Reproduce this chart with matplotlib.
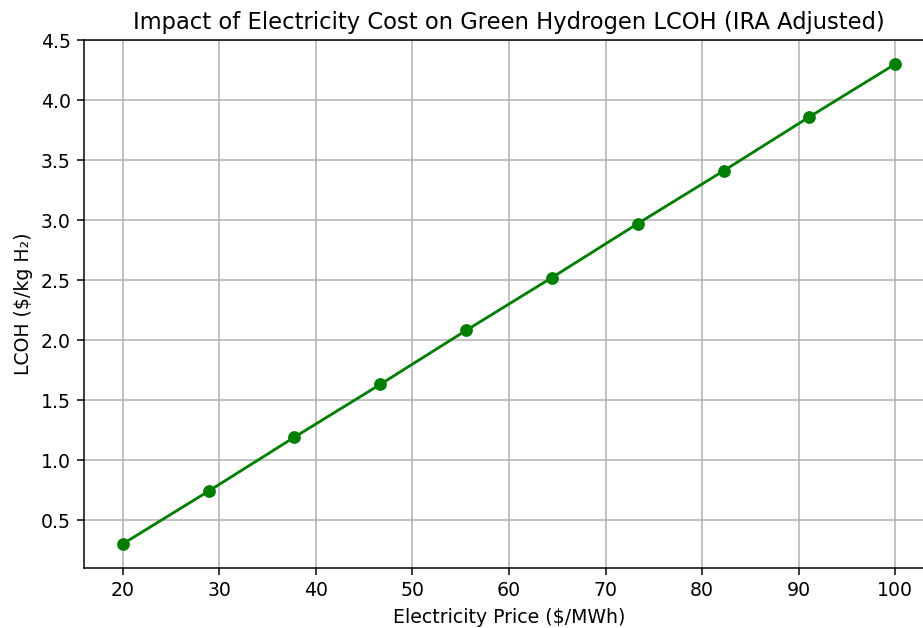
import matplotlib.pyplot as plt

# electricity price ($/MWh) and resulting LCOH ($/kg H2)
PRICES = [20.0, 28.89, 37.78, 46.67, 55.56, 64.44, 73.33, 82.22, 91.11, 100.0]
LCOH = [0.30, 0.74, 1.19, 1.63, 2.08, 2.52, 2.97, 3.41, 3.86, 4.30]

TITLE = "Impact of Electricity Cost on Green Hydrogen LCOH (IRA Adjusted)"
XLABEL = "Electricity Price ($/MWh)"
YLABEL = "LCOH ($/kg H\u2082)"

S = 1.36  # the original was rendered at a higher dpi

plt.rcParams.update({
    "font.size": 10 * S,
    "axes.linewidth": 0.8 * S,
    "grid.linewidth": 0.8 * S,
    "lines.linewidth": 1.5 * S,
    "lines.markersize": 6 * S,
    "xtick.major.size": 3.5 * S,
    "ytick.major.size": 3.5 * S,
    "xtick.major.width": 0.8 * S,
    "ytick.major.width": 0.8 * S,
    "xtick.major.pad": 3.5 * S,
    "ytick.major.pad": 3.5 * S,
    "axes.titlepad": 6 * S,
    "axes.labelpad": 4 * S,
})


def main():
    fig = plt.figure(figsize=(9.23, 6.28), dpi=100)
    # axes run past the right edge, like the cropped original
    ax = fig.add_axes([84 / 923, 60 / 628, 850 / 923, 528 / 628])
    ax.plot(PRICES, LCOH, marker="o", color="green", linestyle="-")
    ax.set_title(TITLE, fontsize=12 * S)
    ax.set_xlabel(XLABEL)
    ax.set_ylabel(YLABEL)
    ax.grid(True)
    fig.savefig("out.png", dpi=100)


if __name__ == "__main__":
    main()
